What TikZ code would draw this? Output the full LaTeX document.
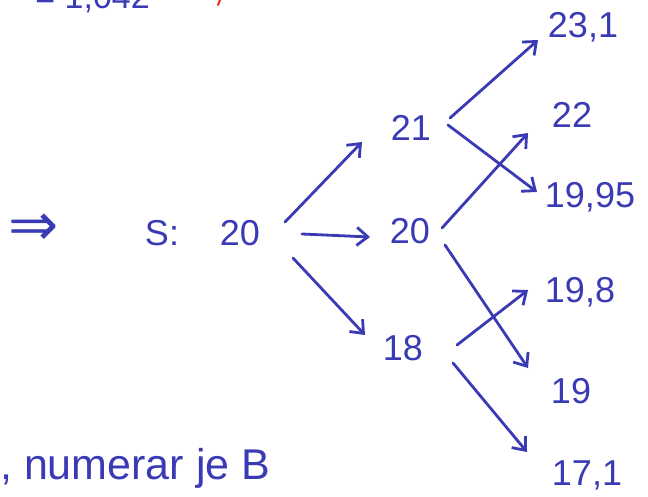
\documentclass[tikz,border=0pt]{standalone}
\usepackage{fontspec}
\setmainfont{Liberation Sans}
\newfontfamily\symfont{DejaVu Sans}
\usetikzlibrary{arrows.meta,calc}
\definecolor{ink}{RGB}{58,58,180}
\definecolor{redink}{RGB}{235,40,40}
\begin{document}
\begin{tikzpicture}[x=1pt,y=-1pt,
  every node/.style={text=ink,inner sep=0pt},
  num/.style={anchor=base,font=\fontsize{36}{36}\selectfont},
  arr/.style={draw=ink,line width=2.8pt,line cap=round,line join=round,
    -{Straight Barb[length=11pt,width=18pt,line width=2.8pt]}}]
\useasboundingbox (0,0) rectangle (648,496);
% partial top line (cut off at the top edge, as in the reference)
\node[anchor=base east,font=\fontsize{34}{34}\selectfont] (top) at (150,8) {= 1,042};
\draw[redink,line width=2pt,line cap=round] (220,0) -- (218,5);
% implication arrow
\node (imp) at (34,230) {\symfont\fontsize{60}{60}\selectfont ⇒};
% nodes
\node[num] (slab) at (162,245) {S:};
\node[num] (s) at (240,245) {20};
\node[num] (n21) at (411,140) {21};
\node[num] (n20) at (410,243) {20};
\node[num] (n18) at (403,360) {18};
\node[num] (n231) at (583,37) {23,1};
\node[num] (n22) at (572,127) {22};
\node[num] (n1995) at (590,207) {19,95};
\node[num] (n198) at (580,302) {19,8};
\node[num] (n19) at (571,403) {19};
\node[num] (n171) at (587,485) {17,1};
% connectors
\draw[arr] ([shift={(45,-23)}]s.base) -- ([shift={(-49,2)}]n21.base);
\draw[arr] ([shift={(62,-11)}]s.base) -- ([shift={(-40,-6)}]n20.base);
\draw[arr] ([shift={(53,13)}]s.base) -- ([shift={(-38,-25)}]n18.base);
\draw[arr] ([shift={(39,-22)}]n21.base) -- ([shift={(-45,3)}]n231.base);
\draw[arr] ([shift={(37,-15)}]n21.base) -- ([shift={(-53,-15)}]n1995.base);
\draw[arr] ([shift={(32,-15)}]n20.base) -- ([shift={(-44,6)}]n22.base);
\draw[arr] ([shift={(35,2)}]n20.base) -- ([shift={(-43,-35)}]n19.base);
\draw[arr] ([shift={(54,-15)}]n18.base) -- ([shift={(-52,-12)}]n198.base);
\draw[arr] ([shift={(50,3)}]n18.base) -- ([shift={(-60,-33)}]n171.base);
% bottom note
\node[anchor=base west,font=\fontsize{43}{43}\selectfont] (note) at (0,479) {, numerar je B};
\end{tikzpicture}
\end{document}
